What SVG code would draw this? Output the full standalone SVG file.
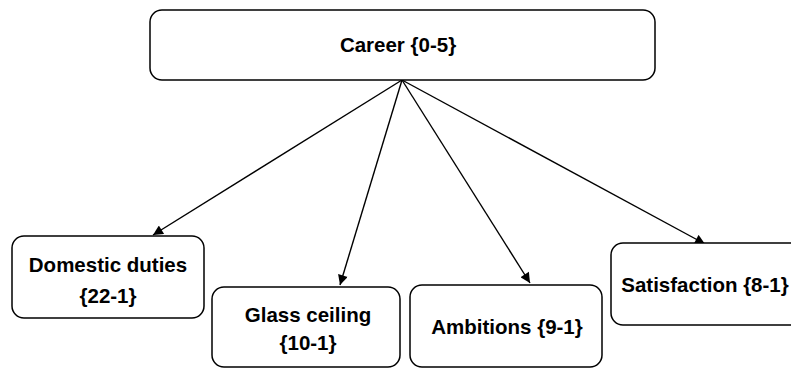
<svg xmlns="http://www.w3.org/2000/svg" width="791" height="368" viewBox="0 0 791 368">
<defs>
<style>
.box{fill:#fff;stroke:#000;stroke-width:1.5}
.t{font-family:"Liberation Sans",Arial,sans-serif;font-weight:bold;font-size:20.5px;text-anchor:middle;fill:#000}
.c{stroke:#000;stroke-width:1.4;fill:none;marker-end:url(#ah)}
</style>
<marker id="ah" viewBox="0 0 10 10" refX="10" refY="5" markerWidth="12" markerHeight="10" markerUnits="userSpaceOnUse" orient="auto">
<path d="M0,0 L10,5 L0,10 z" fill="#000"/>
</marker>
</defs>
<rect width="791" height="368" fill="#fff"/>
<g id="connectors">
<line class="c" x1="402" y1="80" x2="153" y2="235"/>
<line class="c" x1="402" y1="80" x2="340" y2="285"/>
<line class="c" x1="402" y1="80" x2="530" y2="283"/>
<line class="c" x1="402" y1="80" x2="705" y2="244"/>
</g>
<g id="career">
<rect class="box" x="150" y="10" width="505" height="70" rx="12"/>
<text class="t" x="398" y="52">Career {0-5}</text>
</g>
<g id="domestic">
<rect class="box" x="12" y="236" width="192" height="82" rx="12"/>
<text class="t" x="108" y="272">Domestic duties</text>
<text class="t" x="108" y="303">{22-1}</text>
</g>
<g id="glass">
<rect class="box" x="212" y="287" width="188" height="80" rx="12"/>
<text class="t" x="308" y="322">Glass ceiling</text>
<text class="t" x="308" y="350">{10-1}</text>
</g>
<g id="ambitions">
<rect class="box" x="410" y="285" width="192" height="82" rx="12"/>
<text class="t" x="507" y="334">Ambitions {9-1}</text>
</g>
<g id="satisfaction">
<rect class="box" x="611" y="243" width="195" height="82" rx="12"/>
<text class="t" x="705" y="292">Satisfaction {8-1}</text>
</g>
</svg>
